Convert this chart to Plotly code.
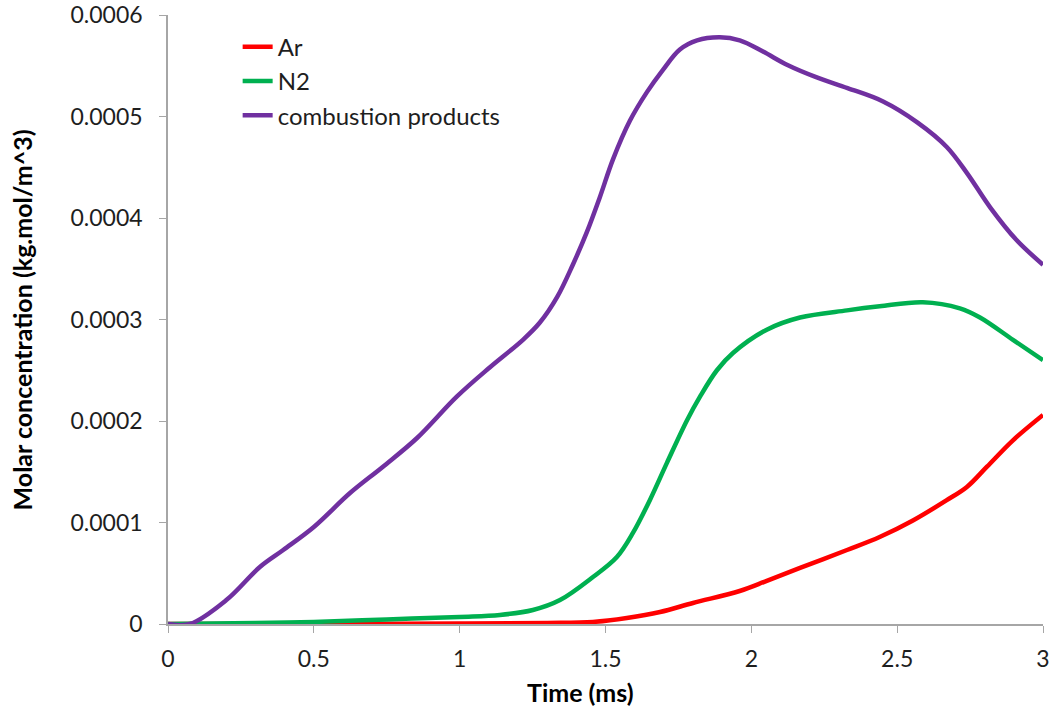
import plotly.graph_objects as go

# Combustion products
cp_x = [0, 0.075, 0.2, 0.315, 0.395, 0.5, 0.624, 0.737, 0.853, 0.99, 1.104, 1.217, 1.275, 1.334,
        1.388, 1.436, 1.48, 1.526, 1.584, 1.642, 1.697, 1.755, 1.814, 1.892, 1.96, 2.04, 2.122,
        2.22, 2.33, 2.45, 2.57, 2.67, 2.74, 2.82, 2.91, 3.0]
cp_y = [0, 0, 0.0000236, 0.0000562, 0.0000729, 0.0000956, 0.000129, 0.000155, 0.000183, 0.000224,
        0.000253, 0.00028, 0.000297, 0.000322, 0.000354, 0.000386, 0.00042, 0.000458, 0.000496,
        0.000524, 0.000546, 0.000566, 0.000575, 0.000578, 0.000575, 0.000564, 0.000551, 0.000539,
        0.000528, 0.000515, 0.000494, 0.00047, 0.000444, 0.00041, 0.000378, 0.000354]

# N2
n2_x = [0, 0.3, 0.5, 0.75, 1.0, 1.138, 1.251, 1.344, 1.457, 1.539, 1.594, 1.652, 1.711, 1.78,
        1.824, 1.882, 1.937, 2.053, 2.167, 2.328, 2.44, 2.588, 2.715, 2.784, 2.897, 3.0]
n2_y = [0, 0.000001, 0.000002, 0.0000045, 0.000007, 0.0000089, 0.0000138, 0.0000236, 0.0000463,
        0.000066, 0.0000897, 0.000122, 0.000159, 0.000201, 0.000224, 0.00025, 0.000267, 0.00029,
        0.000302, 0.000309, 0.000313, 0.000317, 0.000311, 0.000302, 0.00028, 0.00026]

# Ar
ar_x = [0, 0.6, 1.0, 1.3, 1.457, 1.573, 1.687, 1.8, 1.96, 2.053, 2.167, 2.328, 2.44, 2.554,
        2.67, 2.739, 2.808, 2.897, 3.0]
ar_y = [0, 0, 0.0000005, 0.000001, 0.000002, 0.0000059, 0.0000118, 0.0000207, 0.0000325,
        0.0000425, 0.0000552, 0.0000729, 0.0000857, 0.000102, 0.000122, 0.000135, 0.000155,
        0.000181, 0.000206]

x_ticks = [0, 0.5, 1, 1.5, 2, 2.5, 3]
x_tick_labels = ["0", "0.5", "1", "1.5", "2", "2.5", "3"]
y_ticks = [0, 0.0001, 0.0002, 0.0003, 0.0004, 0.0005, 0.0006]
y_tick_labels = ["0", "0.0001", "0.0002", "0.0003", "0.0004", "0.0005", "0.0006"]

FONT = "Lato, 'Open Sans', sans-serif"
TXT = "#1e1e1e"
AXC = "#A6A6A6"

fig = go.Figure()
for name, xs, ys, col in [("Ar", ar_x, ar_y, "#FF0000"),
                          ("N2", n2_x, n2_y, "#00B050"),
                          ("combustion products", cp_x, cp_y, "#7030A0")]:
    fig.add_trace(go.Scatter(x=xs, y=ys, name=name, mode="lines",
                             line=dict(color=col, width=4.5, shape="spline", smoothing=1.0)))

fig.update_layout(
    width=1057, height=715,
    margin=dict(l=168, r=14, t=15, b=91),
    paper_bgcolor="white", plot_bgcolor="white",
    font=dict(family=FONT, size=23, color=TXT),
    showlegend=True,
    legend=dict(x=0.0796, y=0.984, xanchor="left", yanchor="top",
                bgcolor="rgba(0,0,0,0)", font=dict(size=24, family=FONT, color=TXT),
                tracegroupgap=0),
    xaxis=dict(range=[0, 3], tickvals=x_ticks, ticktext=x_tick_labels, automargin=False,
               showgrid=False, zeroline=False, showline=True, linecolor=AXC,
               linewidth=1.5, ticks="outside", ticklen=7, tickcolor=AXC,
               ticklabelstandoff=7, ticklabeloverflow="allow",
               tickfont=dict(size=23, color=TXT)),
    yaxis=dict(range=[0, 0.0006], tickvals=y_ticks, ticktext=y_tick_labels, automargin=False,
               showgrid=False, zeroline=False, showline=True, linecolor=AXC,
               linewidth=1.5, ticks="outside", ticklen=7, tickcolor=AXC,
               ticklabelstandoff=12, ticklabeloverflow="allow",
               tickfont=dict(size=23, color=TXT)),
    annotations=[
        dict(text="<b>Time (ms)</b>", xref="paper", yref="paper", x=0.471, y=-0.1117,
             xanchor="center", yanchor="middle", showarrow=False,
             font=dict(size=25, family=FONT, color="black")),
        dict(text="<b>Molar concentration (kg.mol/m^3)</b>", xref="paper", yref="paper",
             x=-0.1669, y=0.5, xanchor="center", yanchor="middle", textangle=-90,
             showarrow=False, font=dict(size=25, family=FONT, color="black")),
    ],
)

fig.write_html("out.html", config={"displayModeBar": False},
               post_script="document.body.style.margin='0px';document.body.style.padding='0px';")
